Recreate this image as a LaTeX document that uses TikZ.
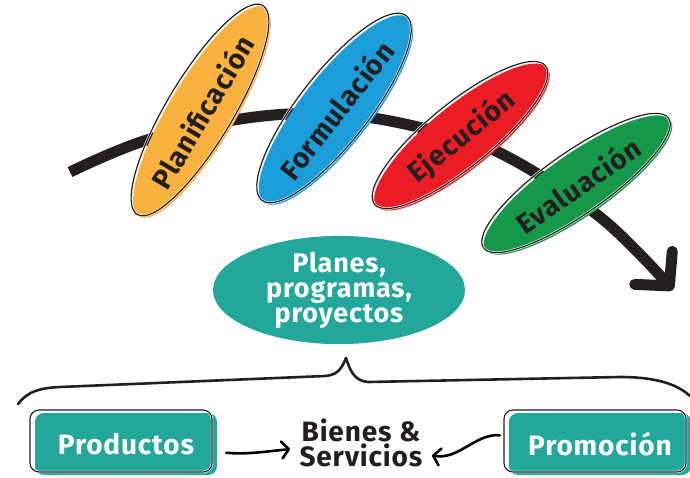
\documentclass[tikz,border=0pt]{standalone}
\usepackage{fontspec}
\setmainfont{Fira Sans}[LetterSpace=3]
\usetikzlibrary{positioning,shapes.geometric,arrows.meta}
\definecolor{ink}{HTML}{231F20}
\definecolor{plan}{HTML}{F9B13F}
\definecolor{form}{HTML}{1B9DD9}
\definecolor{ejec}{HTML}{EC1C24}
\definecolor{eval}{HTML}{16984A}
\definecolor{teal}{HTML}{23A79B}
\tikzset{phase node/.style={ellipse,fill=#1,inner sep=0pt,minimum width=228pt,minimum height=64pt,
		text=ink,font=\fontsize{28}{30}\selectfont\bfseries,
		postaction={draw=white,line width=2.4pt,transform canvas={shift={(-2pt,2pt)}}},
		postaction={draw=ink,line width=1.2pt,transform canvas={shift={(-2pt,2pt)}}}},
	goal node/.style={ellipse,fill=teal,inner sep=0pt,minimum width=252pt,minimum height=96pt,
		text=white,align=center,font=\fontsize{27}{25}\selectfont\bfseries},
	box node/.style={rectangle,rounded corners=9pt,fill=teal,minimum width=182pt,minimum height=62pt,
		text=white,font=\fontsize{28}{28}\selectfont\bfseries,
		postaction={draw=white,line width=2.4pt,transform canvas={shift={(-5pt,3pt)}}},
		postaction={draw=ink,line width=1.1pt,transform canvas={shift={(-5pt,3pt)}}}},
	flow/.style={line width=2.6pt,line cap=round,shorten >=6pt,shorten <=9pt,
		-{Straight Barb[length=7pt,width=17pt,round]}},
}

\begin{document}
\begin{tikzpicture}[x=1pt,y=-1pt]
	\useasboundingbox (0,0) rectangle (690,478);
	% curved timeline
	\coordinate (c0) at (70,172);
	\coordinate (c1) at (147,140);
	\coordinate (c2) at (247,118);
	\coordinate (c3) at (335,114);
	\coordinate (c4) at (418,127);
	\coordinate (c5) at (500,153);
	\coordinate (c6) at (600,217);
	\coordinate (c7) at (673,290);
	\draw[ink,line width=11pt,-{Straight Barb[length=24pt,width=50pt,round]}]
	plot[smooth,tension=0.6] coordinates {(c0) (c1) (c2) (c3) (c4) (c5) (c6) (c7)};
	
	\node[phase node=plan,rotate=59,minimum width=230pt,minimum height=66pt] (1) at (202,112) {Planificación};
	\node[phase node=form,rotate=52,minimum height=70pt] (2) at (336,110) {Formulación};
	\node[phase node=ejec,rotate=39,minimum width=220pt] (3) at (462,137) {Ejecución};
	\node[phase node=eval,rotate=35,minimum width=226pt,minimum height=62pt] (4) at (578,185) {Evaluación};
	
	\node[goal node] (7) at (339,290) {Planes,\\programas,\\proyectos};
	
	% brace
	\draw[ink,line width=2.6pt,line cap=round,line join=round]
	(18,404) .. controls (28,391) and (40,388) .. (60,387) -- (325,376)
	.. controls (338,375) and (342,368) .. (346,358)
	.. controls (350,370) and (354,381) .. (368,382) -- (620,377)
	.. controls (650,377) and (675,382) .. (690,396);
	
	\node[font=\fontsize{28}{25}\selectfont\bfseries,text=ink,align=center] (8) at (361,443) {Bienes \&\\Servicios};
	\node[box node] (5) at (126,444) {Productos};
	\node[box node] (6) at (600,444) {Promoción};
	
	\path[draw]
	(5) edge[flow,out=-5,in=185] (8)
	(6) edge[flow,out=175,in=-10] (8);
\end{tikzpicture}
\end{document}
